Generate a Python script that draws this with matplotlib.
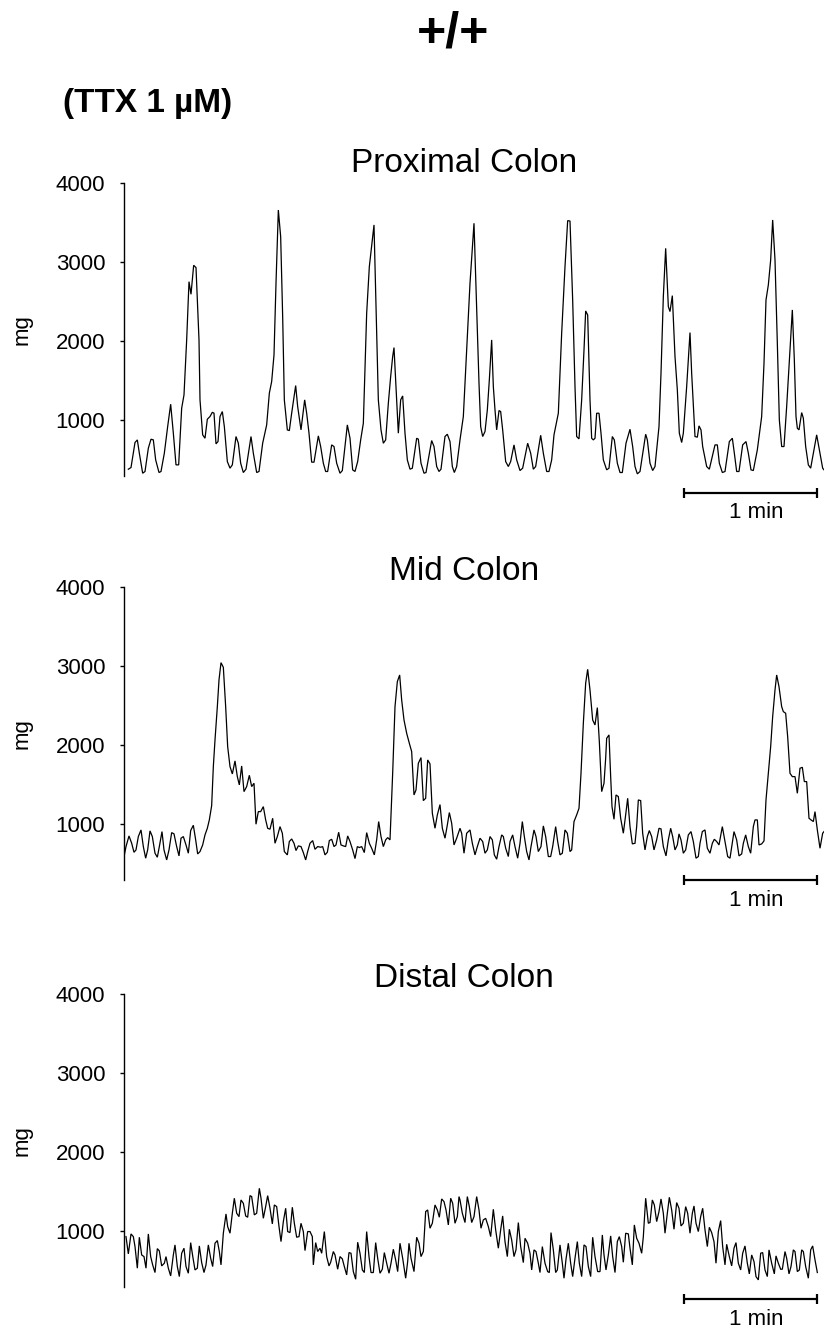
import matplotlib
matplotlib.use("Agg")
import matplotlib.pyplot as plt
import matplotlib.transforms as mtransforms

plt.rcParams['font.family'] = ['Liberation Sans', 'DejaVu Sans']

# ---------------- data (time in s, force in mg) ----------------
fig_title = "+/+"
condition = "(TTX 1 \u00b5M)"
panel_titles = ["Proximal Colon", "Mid Colon", "Distal Colon"]
y_ticks = [1000, 2000, 3000, 4000]
y_label = "mg"
scale_label = "1 min"
scale_start_s = 253.8
scale_len_s = 60.0

prox_t = [3.75, 4.95, 6.75, 7.8, 8.7, 10.2, 11.25, 12.75, 13.95, 15.0,
          16.05, 17.55, 18.45, 19.95, 21.45, 22.8, 24.0, 25.2, 26.4, 27.75,
          28.8, 30.0, 31.05, 31.95, 33.15, 34.2, 35.55, 36.0, 37.2, 38.25,
          39.3, 40.5, 41.55, 42.3, 43.2, 44.1, 45.0, 46.05, 46.95, 48.3,
          49.5, 50.55, 52.2, 53.25, 54.3, 55.5, 56.7, 58.95, 60.0, 61.5,
          62.55, 64.2, 66.0, 67.2, 68.25, 69.3, 70.2, 71.25, 72.3, 73.2,
          73.95, 75.3, 76.2, 77.25, 79.05, 79.95, 81.45, 83.1, 84.0, 85.05,
          86.25, 87.3, 89.25, 90.3, 91.5, 92.55, 93.45, 95.25, 96.3, 97.5,
          99.0, 100.05, 102.3, 103.5, 104.7, 105.75, 106.95, 108.3, 109.5, 111.0,
          112.2, 114.3, 115.05, 116.25, 117.45, 118.5, 119.55, 120.75, 121.8, 122.7,
          123.3, 124.2, 125.25, 126.3, 127.2, 128.25, 129.3, 130.5, 131.55, 133.5,
          134.25, 135.45, 136.8, 137.7, 140.25, 141.3, 142.5, 143.55, 144.45, 146.25,
          147.3, 148.5, 149.55, 150.45, 151.5, 153.0, 154.5, 156.0, 157.5, 159.3,
          160.5, 161.55, 162.3, 163.2, 164.25, 165.3, 166.2, 167.25, 168.0, 168.75,
          169.5, 170.55, 171.3, 172.2, 173.55, 174.75, 175.8, 177.3, 178.5, 180.0,
          181.2, 183.45, 184.8, 186.0, 187.05, 189.3, 190.5, 192.0, 193.05, 194.25,
          195.3, 197.25, 198.75, 200.25, 201.45, 202.5, 203.7, 204.75, 205.5, 206.55,
          207.75, 208.8, 209.55, 210.45, 211.5, 212.25, 213.0, 213.75, 214.5, 215.55,
          216.45, 217.5, 219.0, 220.05, 221.55, 222.45, 223.8, 225.0, 226.05, 227.7,
          229.5, 230.7, 231.75, 232.8, 234.0, 236.55, 237.3, 238.5, 239.7, 240.75,
          242.55, 243.45, 244.5, 245.55, 246.75, 247.5, 248.55, 249.75, 250.8, 251.7,
          252.75, 253.5, 255.0, 256.5, 257.25, 258.75, 259.8, 260.55, 261.45, 262.2,
          264.0, 265.2, 266.55, 267.75, 268.8, 269.7, 271.05, 272.25, 274.2, 275.55,
          276.45, 277.5, 278.55, 280.2, 281.7, 282.75, 283.95, 285.0, 286.8, 288.75,
          289.8, 290.7, 291.75, 292.8, 293.7, 294.75, 295.8, 296.7, 297.75, 298.8,
          300.0, 301.5, 302.55, 303.45, 304.2, 304.8, 305.55, 306.75, 307.5, 308.55,
          309.75, 310.8, 312.3, 313.5, 314.7, 316.2, 316.8]
prox_mg = [376, 397, 714, 747, 579, 325, 347, 642, 756, 747,
           494, 334, 347, 579, 916, 1199, 832, 431, 431, 1148,
           1317, 2013, 2751, 2591, 2958, 2929, 2013, 1254, 811, 768,
           1009, 1043, 1097, 1085, 697, 726, 1043, 1106, 916, 473,
           389, 431, 790, 705, 452, 334, 376, 790, 579, 334,
           347, 705, 937, 1338, 1486, 1823, 2730, 3658, 3321, 2308,
           1254, 874, 865, 1085, 1435, 1169, 874, 1254, 1085, 832,
           465, 465, 798, 663, 452, 347, 347, 684, 663, 452,
           325, 359, 937, 768, 368, 347, 473, 747, 958, 2351,
           2941, 3469, 2604, 1254, 874, 705, 747, 1211, 1549, 1802,
           1916, 1422, 832, 1254, 1304, 832, 494, 376, 389, 768,
           756, 452, 325, 334, 739, 663, 410, 347, 376, 790,
           819, 726, 410, 334, 410, 747, 1043, 1886, 2730, 3490,
           2393, 1465, 916, 790, 853, 1127, 1507, 2013, 1422, 1127,
           874, 1119, 1106, 874, 473, 410, 473, 684, 494, 359,
           389, 705, 579, 376, 410, 806, 579, 347, 347, 494,
           811, 1085, 2097, 2941, 3523, 3519, 2519, 1422, 790, 760,
           1254, 1886, 2380, 2329, 1254, 768, 747, 768, 1085, 1085,
           832, 494, 368, 389, 790, 747, 452, 334, 334, 705,
           882, 663, 410, 317, 347, 819, 747, 452, 359, 410,
           916, 1591, 2561, 3173, 2435, 2372, 2574, 1802, 1380, 832,
           714, 832, 1422, 2106, 1591, 790, 781, 925, 874, 663,
           410, 376, 536, 684, 684, 452, 334, 347, 726, 768,
           579, 347, 347, 684, 726, 579, 368, 359, 621, 1043,
           1718, 2519, 2709, 3026, 3532, 3026, 1971, 1000, 663, 663,
           1169, 1886, 2393, 1760, 1043, 895, 874, 1093, 1022, 663,
           431, 389, 621, 811, 621, 389, 368]

mid_t = [1.8, 2.7, 4.05, 5.25, 6.3, 7.2, 8.25, 9.45, 10.5, 11.55,
         12.45, 13.5, 14.55, 15.75, 16.8, 17.7, 18.9, 19.8, 21.0, 22.05,
         23.25, 24.3, 25.5, 26.55, 27.45, 28.5, 29.7, 30.75, 31.8, 33.0,
         34.05, 34.95, 36.0, 37.2, 38.25, 39.3, 40.2, 41.25, 42.0, 42.75,
         43.8, 44.55, 45.45, 46.5, 47.55, 48.45, 49.5, 50.55, 51.75, 52.8,
         53.7, 54.75, 55.8, 57.0, 58.2, 59.25, 60.3, 61.2, 62.25, 63.3,
         64.5, 65.55, 66.45, 67.5, 68.7, 69.75, 70.8, 72.0, 73.05, 73.95,
         75.3, 76.2, 77.25, 78.3, 79.2, 80.25, 81.45, 82.5, 83.55, 84.45,
         85.5, 86.7, 87.75, 88.95, 90.3, 91.2, 92.25, 93.3, 94.2, 95.25,
         96.3, 97.2, 98.4, 99.45, 100.5, 101.55, 102.45, 103.5, 104.7, 105.75,
         106.8, 107.7, 108.75, 109.95, 111.0, 112.2, 113.25, 114.45, 115.5, 116.4,
         117.45, 118.5, 119.55, 120.45, 121.5, 122.7, 123.75, 124.8, 125.85, 126.75,
         127.8, 129.0, 130.2, 131.25, 132.3, 133.2, 134.25, 135.45, 136.5, 137.55,
         138.45, 139.5, 140.55, 141.75, 142.8, 144.0, 145.05, 146.25, 147.3, 148.2,
         149.25, 150.3, 151.5, 153.0, 153.75, 154.8, 156.0, 157.5, 158.55, 159.75,
         160.8, 162.0, 163.2, 164.25, 165.3, 166.5, 167.55, 168.45, 169.5, 170.55,
         171.75, 172.5, 173.55, 174.75, 175.5, 176.7, 177.75, 178.95, 180.0, 181.05,
         181.95, 183.0, 184.05, 184.95, 186.3, 187.2, 188.25, 189.45, 190.5, 191.55,
         192.75, 193.8, 194.7, 196.05, 196.95, 198.0, 199.05, 200.25, 201.3, 202.5,
         203.25, 204.3, 205.5, 206.55, 207.45, 208.5, 209.55, 210.45, 211.5, 212.7,
         213.75, 214.8, 215.7, 216.75, 217.8, 218.55, 219.0, 220.05, 220.8, 221.4,
         222.3, 223.2, 224.25, 225.3, 226.5, 227.55, 228.45, 229.5, 230.55, 231.75,
         232.5, 233.25, 234.3, 235.2, 236.25, 237.3, 238.2, 239.25, 240.3, 241.5,
         242.55, 243.45, 244.5, 245.7, 246.75, 247.8, 248.7, 249.75, 250.8, 251.55,
         252.45, 253.5, 254.55, 255.75, 256.95, 258.0, 259.2, 260.25, 261.0, 262.05,
         263.25, 264.3, 265.5, 266.55, 267.45, 268.5, 269.55, 271.05, 272.25, 273.45,
         274.5, 275.55, 276.3, 277.5, 278.55, 279.75, 280.5, 281.55, 282.75, 283.8,
         285.0, 285.75, 286.8, 287.55, 288.75, 289.8, 290.7, 291.75, 292.8, 293.7,
         294.75, 295.5, 296.55, 297.75, 298.5, 299.55, 300.45, 301.5, 302.55, 303.75,
         304.8, 306.0, 307.05, 307.95, 309.0, 310.05, 310.95, 312.0, 312.75, 313.8,
         315.0, 316.2, 316.8]
mid_mg = [587, 713, 848, 755, 641, 671, 840, 924, 713, 566,
          671, 912, 840, 629, 578, 713, 903, 671, 544, 671,
          890, 874, 713, 595, 819, 840, 734, 629, 916, 983,
          798, 620, 650, 734, 861, 945, 1051, 1232, 1726, 2063,
          2485, 2823, 3042, 2983, 2485, 1979, 1726, 1633, 1798, 1599,
          1494, 1734, 1409, 1473, 1616, 1473, 1515, 996, 1156, 1156,
          1219, 1051, 945, 933, 1072, 755, 840, 966, 882, 650,
          608, 777, 810, 755, 663, 722, 713, 637, 544, 650,
          755, 789, 679, 713, 705, 713, 608, 641, 789, 806,
          713, 734, 895, 734, 722, 713, 848, 777, 671, 561,
          713, 701, 713, 637, 890, 755, 692, 608, 798, 1030,
          840, 713, 798, 827, 798, 1641, 2485, 2802, 2886, 2570,
          2316, 2148, 2021, 1916, 1367, 1430, 1768, 1840, 1295, 1325,
          1810, 1760, 1135, 945, 1114, 1245, 945, 819, 987, 1144,
          1009, 734, 819, 945, 882, 629, 882, 924, 755, 608,
          713, 819, 777, 629, 671, 840, 798, 608, 553, 713,
          861, 840, 692, 587, 777, 861, 713, 566, 755, 1030,
          840, 650, 544, 713, 924, 840, 650, 713, 975, 840,
          587, 587, 713, 966, 777, 608, 629, 924, 882, 650,
          671, 1030, 1114, 1198, 1641, 2274, 2781, 2958, 2696, 2316,
          2253, 2473, 2042, 1409, 1515, 1831, 2084, 2127, 1599, 1219,
          1059, 1367, 1346, 1072, 882, 1114, 1325, 966, 747, 755,
          966, 1304, 1295, 882, 671, 840, 916, 840, 671, 798,
          945, 937, 713, 595, 798, 945, 840, 671, 734, 874,
          798, 629, 671, 861, 903, 777, 566, 587, 755, 903,
          924, 692, 629, 755, 806, 777, 734, 966, 777, 587,
          566, 764, 903, 798, 595, 620, 755, 861, 713, 629,
          966, 1051, 1051, 734, 747, 785, 1304, 1641, 1979, 2359,
          2696, 2886, 2738, 2485, 2422, 2401, 2105, 1641, 1599, 1599,
          1388, 1705, 1717, 1536, 1536, 1072, 1051, 1030, 1156, 924,
          692, 882, 903]

dist_t = [2.7, 3.75, 4.95, 6.0, 6.75, 7.8, 8.7, 9.75, 10.8, 11.7,
          12.75, 13.8, 14.7, 15.75, 16.8, 17.7, 18.75, 19.95, 20.7, 21.75,
          22.8, 24.0, 24.75, 25.8, 26.7, 27.75, 28.8, 29.7, 30.75, 31.8,
          32.7, 33.75, 34.8, 35.7, 36.75, 37.8, 38.7, 39.75, 40.8, 41.7,
          42.75, 43.8, 44.7, 45.45, 46.5, 47.7, 48.45, 49.5, 50.55, 51.45,
          52.5, 53.55, 54.45, 55.5, 56.55, 57.45, 58.5, 59.25, 60.45, 61.5,
          62.7, 63.45, 64.5, 65.55, 66.45, 67.5, 68.55, 69.45, 70.5, 71.55,
          72.45, 73.5, 74.55, 75.45, 76.5, 77.55, 78.45, 79.5, 80.55, 81.45,
          82.5, 83.25, 84.45, 85.5, 86.55, 87.0, 88.05, 88.95, 90.0, 90.75,
          91.95, 93.0, 94.05, 94.8, 96.0, 96.75, 97.95, 99.0, 100.05, 100.95,
          102.0, 103.05, 103.95, 105.0, 106.05, 106.95, 108.0, 109.05, 109.95, 111.0,
          112.05, 112.95, 114.0, 115.05, 115.95, 117.0, 118.05, 118.95, 120.0, 121.05,
          121.95, 123.0, 124.05, 124.95, 126.0, 127.2, 128.55, 129.45, 130.05, 130.95,
          132.3, 133.5, 134.55, 135.45, 136.5, 137.55, 138.45, 139.5, 140.55, 141.75,
          142.8, 143.7, 144.75, 145.8, 146.7, 147.75, 148.8, 149.7, 150.75, 151.8,
          152.55, 153.0, 154.05, 155.25, 156.3, 157.2, 158.25, 159.3, 160.5, 161.55,
          162.45, 163.5, 164.55, 165.75, 166.8, 168.0, 169.05, 170.25, 171.3, 172.2,
          173.25, 174.3, 175.2, 176.25, 177.3, 178.2, 179.25, 180.3, 181.5, 182.25,
          183.45, 184.5, 185.25, 186.3, 187.2, 188.25, 189.0, 190.05, 191.25, 192.45,
          193.2, 193.95, 195.0, 196.05, 196.8, 198.0, 199.05, 199.8, 200.7, 201.75,
          202.8, 203.7, 204.75, 205.8, 206.7, 207.75, 208.8, 209.7, 210.75, 211.8,
          212.7, 213.75, 214.95, 216.0, 217.05, 217.8, 218.7, 219.75, 220.8, 221.7,
          222.75, 223.8, 224.7, 225.75, 226.5, 227.55, 228.75, 229.5, 230.55, 231.45,
          232.5, 233.55, 234.75, 235.5, 236.55, 237.75, 238.5, 239.55, 240.45, 241.5,
          242.55, 243.45, 244.5, 245.25, 246.3, 247.2, 248.25, 249.3, 250.5, 251.55,
          252.45, 253.5, 254.55, 255.45, 256.5, 257.55, 258.3, 259.2, 260.25, 261.3,
          262.2, 263.25, 264.3, 265.2, 266.25, 267.3, 268.2, 269.25, 270.3, 271.2,
          272.25, 273.0, 274.2, 275.25, 276.3, 277.2, 278.25, 279.3, 280.2, 281.25,
          282.3, 283.2, 284.25, 285.3, 286.2, 287.25, 288.3, 289.2, 290.25, 291.3,
          292.05, 293.25, 294.45, 295.2, 296.25, 297.3, 298.05, 299.25, 300.0, 301.05,
          301.95, 303.0, 303.75, 304.8, 305.7, 306.75, 307.5, 308.55, 309.75, 310.8,
          311.7, 312.75, 313.8]
dist_mg = [928, 709, 962, 928, 802, 528, 920, 696, 675, 528,
           962, 675, 570, 473, 776, 747, 557, 591, 675, 528,
           430, 696, 823, 549, 422, 717, 781, 549, 464, 852,
           684, 506, 528, 810, 599, 473, 570, 823, 654, 549,
           844, 878, 739, 570, 971, 1215, 1055, 971, 1224, 1414,
           1224, 1181, 1392, 1350, 1190, 1173, 1447, 1435, 1203, 1224,
           1540, 1414, 1160, 1308, 1447, 1287, 1089, 1329, 1308, 1055,
           865, 1118, 1287, 992, 979, 1300, 1097, 920, 928, 1097,
           992, 751, 992, 992, 928, 570, 852, 739, 781, 717,
           992, 675, 557, 603, 739, 696, 515, 675, 646, 549,
           443, 726, 717, 485, 388, 857, 717, 506, 473, 992,
           675, 473, 473, 852, 654, 464, 515, 726, 591, 464,
           591, 768, 633, 485, 844, 654, 401, 612, 844, 654,
           485, 920, 844, 675, 739, 1245, 1266, 1034, 1097, 1329,
           1266, 1173, 1405, 1371, 1266, 1076, 1414, 1350, 1097, 1181,
           1435, 1392, 1224, 1106, 1435, 1308, 1106, 1181, 1435, 1266,
           1034, 1139, 1160, 1055, 928, 1274, 1013, 781, 1013, 1190,
           865, 675, 1021, 886, 675, 760, 1106, 802, 599, 907,
           844, 717, 506, 760, 739, 591, 473, 802, 591, 485,
           473, 979, 760, 473, 506, 823, 591, 401, 641, 844,
           591, 422, 654, 865, 591, 422, 823, 802, 549, 422,
           920, 675, 485, 485, 949, 696, 506, 696, 937, 675,
           473, 865, 928, 802, 603, 971, 962, 781, 570, 1076,
           907, 844, 717, 928, 1414, 1097, 1106, 1392, 1329, 1118,
           1245, 1405, 1224, 971, 1224, 1426, 1266, 1021, 1359, 1287,
           1063, 1097, 1308, 1224, 971, 1224, 1316, 1097, 992, 1181,
           1287, 1013, 802, 1046, 979, 865, 591, 992, 1131, 802,
           570, 831, 675, 557, 781, 852, 591, 506, 717, 810,
           591, 456, 696, 612, 422, 380, 717, 726, 506, 422,
           760, 591, 456, 684, 591, 515, 515, 739, 654, 456,
           549, 760, 739, 485, 506, 760, 739, 549, 401, 760,
           810, 633, 473]

traces_t = [prox_t, mid_t, dist_t]
traces_mg = [prox_mg, mid_mg, dist_mg]
for a, b in zip(traces_t, traces_mg):
    assert len(a) == len(b), (len(a), len(b))

# ---------------- layout (pixels of an 824x1328 canvas) ----------------
W, H = 824, 1328
fig = plt.figure(figsize=(W / 100, H / 100), dpi=100)

ax_left, ax_right = 124, 824
ax_tops = [183, 587, 994]
ax_h = 293
ylim = (290, 4000)
xlim = (1.8, 316.8)
title_baselines = [172, 580, 987]
bar_offsets = [17, 0, 12]        # px below axis bottom
text_offsets = [42, 26, 38]      # baseline px below axis bottom

fig.text(453.5 / W, 1 - 46 / H, fig_title, ha='center', va='baseline',
         fontsize=36, fontweight='bold')
fig.text(63 / W, 1 - 112 / H, condition, ha='left', va='baseline',
         fontsize=24, fontweight='bold')

for i in range(3):
    top = ax_tops[i]
    ax = fig.add_axes([ax_left / W, 1 - (top + ax_h) / H,
                       (ax_right - ax_left) / W, ax_h / H])
    ax.plot(traces_t[i], traces_mg[i], color='black', lw=0.9,
            solid_joinstyle='miter')
    ax.set_xlim(*xlim)
    ax.set_ylim(*ylim)
    for s in ['top', 'right', 'bottom']:
        ax.spines[s].set_visible(False)
    ax.spines['left'].set_linewidth(1.0)
    ax.set_xticks([])
    ax.set_yticks(y_ticks)
    ax.tick_params(axis='y', direction='out', length=3, width=1.0,
                   labelsize=16, pad=10.5)
    ax.text(-102 / 700, 0.5, y_label, rotation=90, ha='center', va='center',
            fontsize=16, transform=ax.transAxes)
    fig.text(464 / W, 1 - title_baselines[i] / H, panel_titles[i],
             ha='center', va='baseline', fontsize=24)

    # scale bar
    trans = mtransforms.blended_transform_factory(ax.transData, ax.transAxes)
    yb = -bar_offsets[i] / ax_h
    cap = 5 / ax_h
    x0, x1 = scale_start_s, scale_start_s + scale_len_s
    ax.plot([x0, x1], [yb, yb], color='black', lw=1.6, transform=trans,
            clip_on=False, solid_capstyle='butt')
    for xx in (x0, x1):
        ax.plot([xx, xx], [yb - cap, yb + cap], color='black', lw=1.6,
                transform=trans, clip_on=False, solid_capstyle='butt')
    ax.text(x0 + scale_len_s / 2 + 2.3, -text_offsets[i] / ax_h, scale_label,
            ha='center', va='baseline', fontsize=16, transform=trans)

fig.savefig("out.png", dpi=100)
